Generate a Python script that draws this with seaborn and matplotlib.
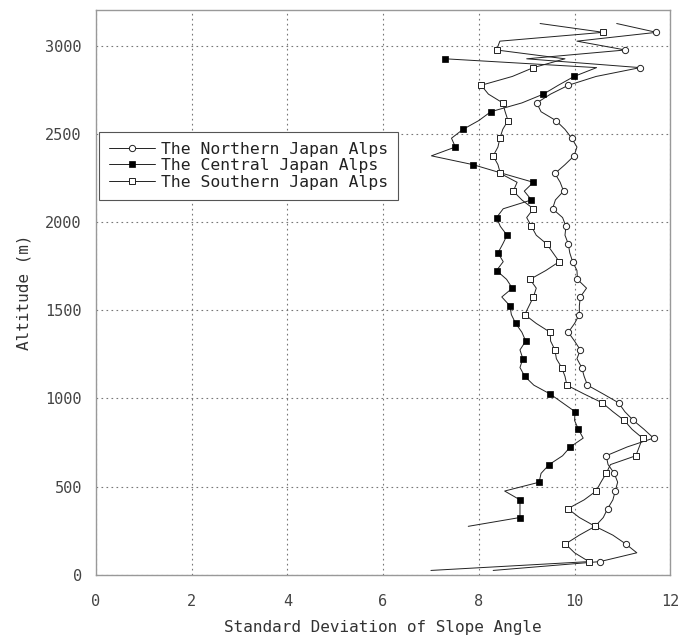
import numpy as np
import pandas as pd
import matplotlib
matplotlib.use("Agg")
import matplotlib.pyplot as plt
import seaborn as sns

# Altitude (m) of each vertex, 50 m apart
alt_ns = [25 + 50 * i for i in range(63)]          # 25 .. 3125
alt_central = [275 + 50 * i for i in range(54)]    # 275 .. 2925

northern = [8.3, 10.53, 11.3, 11.07, 10.8, 10.43, 10.6, 10.69, 10.8, 10.85,
            10.9, 10.83, 10.7, 10.66, 11.1, 11.65, 11.45, 11.23, 11.05, 10.92,
            10.6, 10.27, 10.2, 10.15, 10.05, 10.12, 10.0, 9.87, 10.0, 10.10,
            10.1, 10.12, 10.25, 10.06, 10.05, 9.96, 9.9, 9.87, 9.8, 9.82,
            9.75, 9.54, 9.6, 9.77, 9.7, 9.59, 9.8, 9.99, 10.05, 9.94,
            9.8, 9.61, 9.3, 9.21, 9.5, 9.87, 10.45, 11.37, 9.0, 11.06,
            10.05, 11.71, 10.88]

southern = [7.0, 10.3, 10.0, 9.81, 10.1, 10.43, 10.1, 9.86, 10.2, 10.45,
            10.55, 10.66, 10.75, 11.28, 11.35, 11.42, 11.2, 11.04, 10.8, 10.58,
            10.2, 9.84, 9.8, 9.73, 9.62, 9.59, 9.5, 9.49, 9.2, 8.96,
            9.05, 9.14, 9.2, 9.07, 9.4, 9.68, 9.55, 9.42, 9.2, 9.10,
            9.0, 9.14, 8.9, 8.72, 8.8, 8.45, 8.4, 8.3, 8.4, 8.44,
            8.5, 8.61, 8.55, 8.5, 8.2, 8.05, 8.7, 9.14, 9.8, 8.37,
            8.44, 10.6, 9.28]

central = [7.78, 8.86, 8.86, 8.86, 8.54, 9.26, 9.30, 9.47, 9.75, 9.91,
           10.18, 10.08, 10.0, 10.01, 9.75, 9.49, 9.15, 8.96, 8.86, 8.92,
           8.86, 8.98, 8.9, 8.77, 8.68, 8.65, 8.48, 8.70, 8.58, 8.37,
           8.51, 8.40, 8.5, 8.59, 8.45, 8.37, 8.51, 9.10, 8.95, 9.14,
           8.5, 7.88, 7.01, 7.51, 7.43, 7.67, 8.0, 8.25, 8.9, 9.35,
           9.66, 9.99, 10.46, 7.30]

labels = ["The Northern Japan Alps", "The Central Japan Alps", "The Southern Japan Alps"]
x_ticks = [0, 2, 4, 6, 8, 10, 12]
y_ticks = [0, 500, 1000, 1500, 2000, 2500, 3000]

sns.set_style("white")
plt.rcParams['font.family'] = ['DejaVu Sans Mono', 'DejaVu Sans']

fig = plt.figure(figsize=(6.84, 6.43), dpi=100)
ax = fig.add_axes([0.140, 0.106, 0.840, 0.878])

line_kw = dict(sort=False, estimator=None, color="#222222", linewidth=0.7, ax=ax)

sns.lineplot(x=northern, y=alt_ns, marker="o", markersize=4.5,
             markerfacecolor="white", markeredgecolor="#222222", markeredgewidth=0.7,
             markevery=(1, 2), label=labels[0], **line_kw)
sns.lineplot(x=central, y=alt_central, marker="s", markersize=5,
             markerfacecolor="black", markeredgecolor="black", markeredgewidth=0.5,
             markevery=(1, 2), label=labels[1], **line_kw)
sns.lineplot(x=southern, y=alt_ns, marker="s", markersize=4.2,
             markerfacecolor="white", markeredgecolor="#222222", markeredgewidth=0.7,
             markevery=(1, 2), label=labels[2], **line_kw)

ax.set_xlim(0, 12)
ax.set_ylim(0, 3200)
ax.set_xticks(x_ticks)
ax.set_yticks(y_ticks)
ax.set_xticklabels([str(v) for v in x_ticks])
ax.set_yticklabels([str(v) for v in y_ticks])
ax.tick_params(axis="both", length=0, labelsize=11, colors="#444444")
ax.tick_params(axis="x", pad=14)
ax.tick_params(axis="y", pad=10)

ax.grid(True, linestyle=(0, (1.5, 3)), color="#777777", linewidth=0.8)
for s in ax.spines.values():
    s.set_color("#999999")
    s.set_linewidth(1.0)

ax.set_xlabel("Standard Deviation of Slope Angle", fontsize=11.5, color="#333333", labelpad=8)
ax.set_ylabel("Altitude (m)", fontsize=11.5, color="#333333", labelpad=10)

leg = ax.legend(loc="upper left", bbox_to_anchor=(0.006, 0.785), fontsize=11.8,
                frameon=True, fancybox=False, shadow=False, borderpad=0.6,
                labelspacing=0.1, handlelength=2.8, handletextpad=0.4,
                borderaxespad=0.0)
leg.get_frame().set_edgecolor("#555555")
leg.get_frame().set_linewidth(0.8)
leg.get_frame().set_alpha(1.0)
for t in leg.get_texts():
    t.set_color("#222222")

fig.savefig("out.png", dpi=100, facecolor="white")
